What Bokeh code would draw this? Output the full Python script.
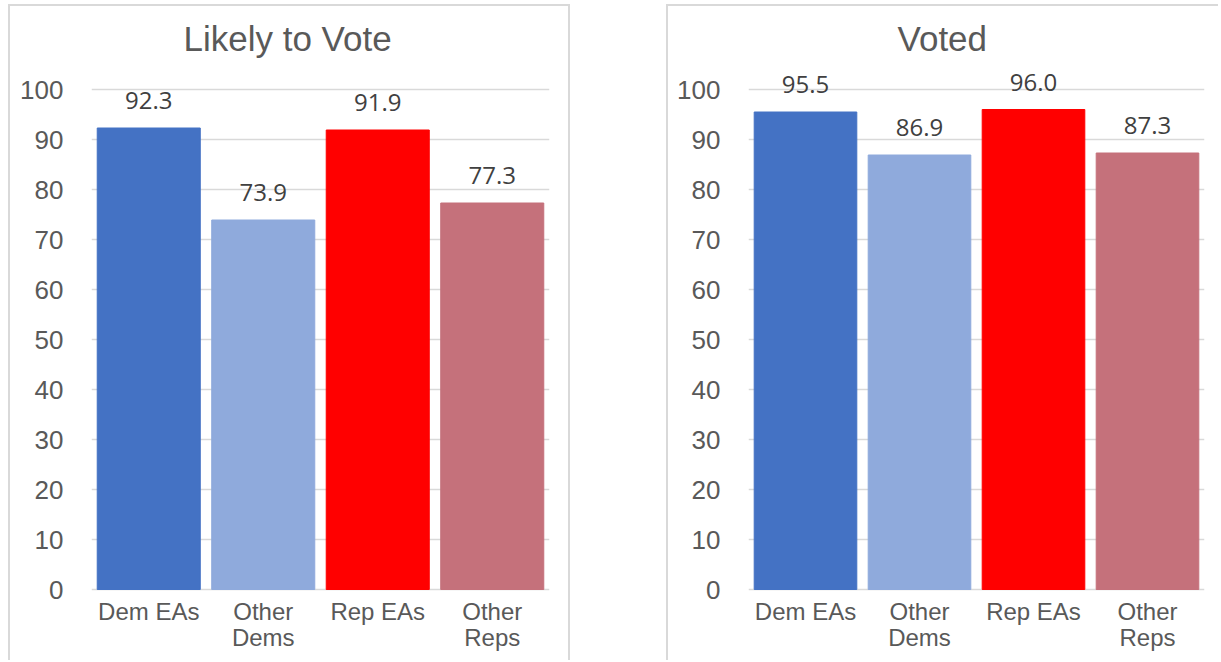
from bokeh.plotting import figure
from bokeh.layouts import row
from bokeh.models import ColumnDataSource, FactorRange, Range1d, FixedTicker
from bokeh.core.properties import value
from bokeh.embed import file_html
from bokeh.resources import INLINE

categories = ["Dem EAs", "Other Dems", "Rep EAs", "Other Reps"]
label_line1 = ["Dem EAs", "Other", "Rep EAs", "Other"]
label_line2 = ["", "Dems", "", "Reps"]
likely_values = [92.3, 73.9, 91.9, 77.3]
voted_values = [95.5, 86.9, 96.0, 87.3]
bar_colors = ["#4472C4", "#8FAADC", "#FF0000", "#C5717B"]
y_ticks = [0, 10, 20, 30, 40, 50, 60, 70, 80, 90, 100]

GRID = "#d9d9d9"
TXT = "#595959"


def make_panel(title, vals, width, border_left, border_right, title_offset, margin):
    src = ColumnDataSource(dict(cat=categories, val=vals, color=bar_colors,
                                lab=["%.1f" % v for v in vals],
                                l1=label_line1, l2=label_line2,
                                zero=[0] * len(categories)))
    p = figure(x_range=FactorRange(*categories, range_padding=0.0),
               y_range=Range1d(-14.2, 104.4), width=width, height=656,
               output_backend="svg", toolbar_location=None,
               min_border_left=border_left, min_border_right=border_right,
               min_border_top=40, min_border_bottom=2,
               margin=margin)
    p.title.text = title
    p.title.align = "left"
    p.title.text_font = "Liberation Sans"
    p.title.text_font_size = "35px"
    p.title.text_font_style = "normal"
    p.title.text_color = TXT
    p.title.offset = title_offset
    p.title.standoff = 20

    p.vbar(x="cat", top="val", width=0.9, color="color", source=src)
    p.text(x="cat", y="val", text="lab", source=src, text_align="center",
           text_baseline="bottom", y_offset=-19, text_font=value("Open Sans"),
           text_font_size="24px", text_color="#404040")
    for col, off in (("l1", 22), ("l2", 48)):
        p.text(x="cat", y="zero", text=col, source=src, text_align="center",
               text_baseline="middle", y_offset=off,
               text_font=value("Liberation Sans"), text_font_size="24px",
               text_color=TXT)

    p.outline_line_color = None
    p.background_fill_color = "white"
    p.border_fill_color = "white"
    p.xgrid.grid_line_color = None
    p.ygrid.grid_line_color = GRID
    p.ygrid.grid_line_width = 1.5
    p.ygrid.ticker = FixedTicker(ticks=y_ticks)

    p.yaxis.ticker = FixedTicker(ticks=y_ticks)
    p.yaxis.axis_line_color = None
    p.yaxis.major_tick_line_color = None
    p.yaxis.minor_tick_line_color = None
    p.yaxis.major_label_text_font = "Liberation Sans"
    p.yaxis.major_label_text_font_size = "26px"
    p.yaxis.major_label_text_color = TXT
    p.yaxis.major_label_standoff = 22

    p.xaxis.visible = False
    return p


p1 = make_panel("Likely to Vote", likely_values, 562, 81, 23, 92, (4, 0, 0, 8))
p1.styles = {"border-top": "2px solid #d9d9d9", "border-left": "2px solid #d9d9d9",
             "border-right": "2px solid #d9d9d9", "box-sizing": "border-box"}
p2 = make_panel("Voted", voted_values, 552, 80, 16, 149, (4, 0, 0, 96))
p2.styles = {"border-top": "2px solid #d9d9d9", "border-left": "2px solid #d9d9d9",
             "box-sizing": "border-box"}

layout = row(p1, p2)
open("out.html", "w").write(file_html(layout, INLINE))
